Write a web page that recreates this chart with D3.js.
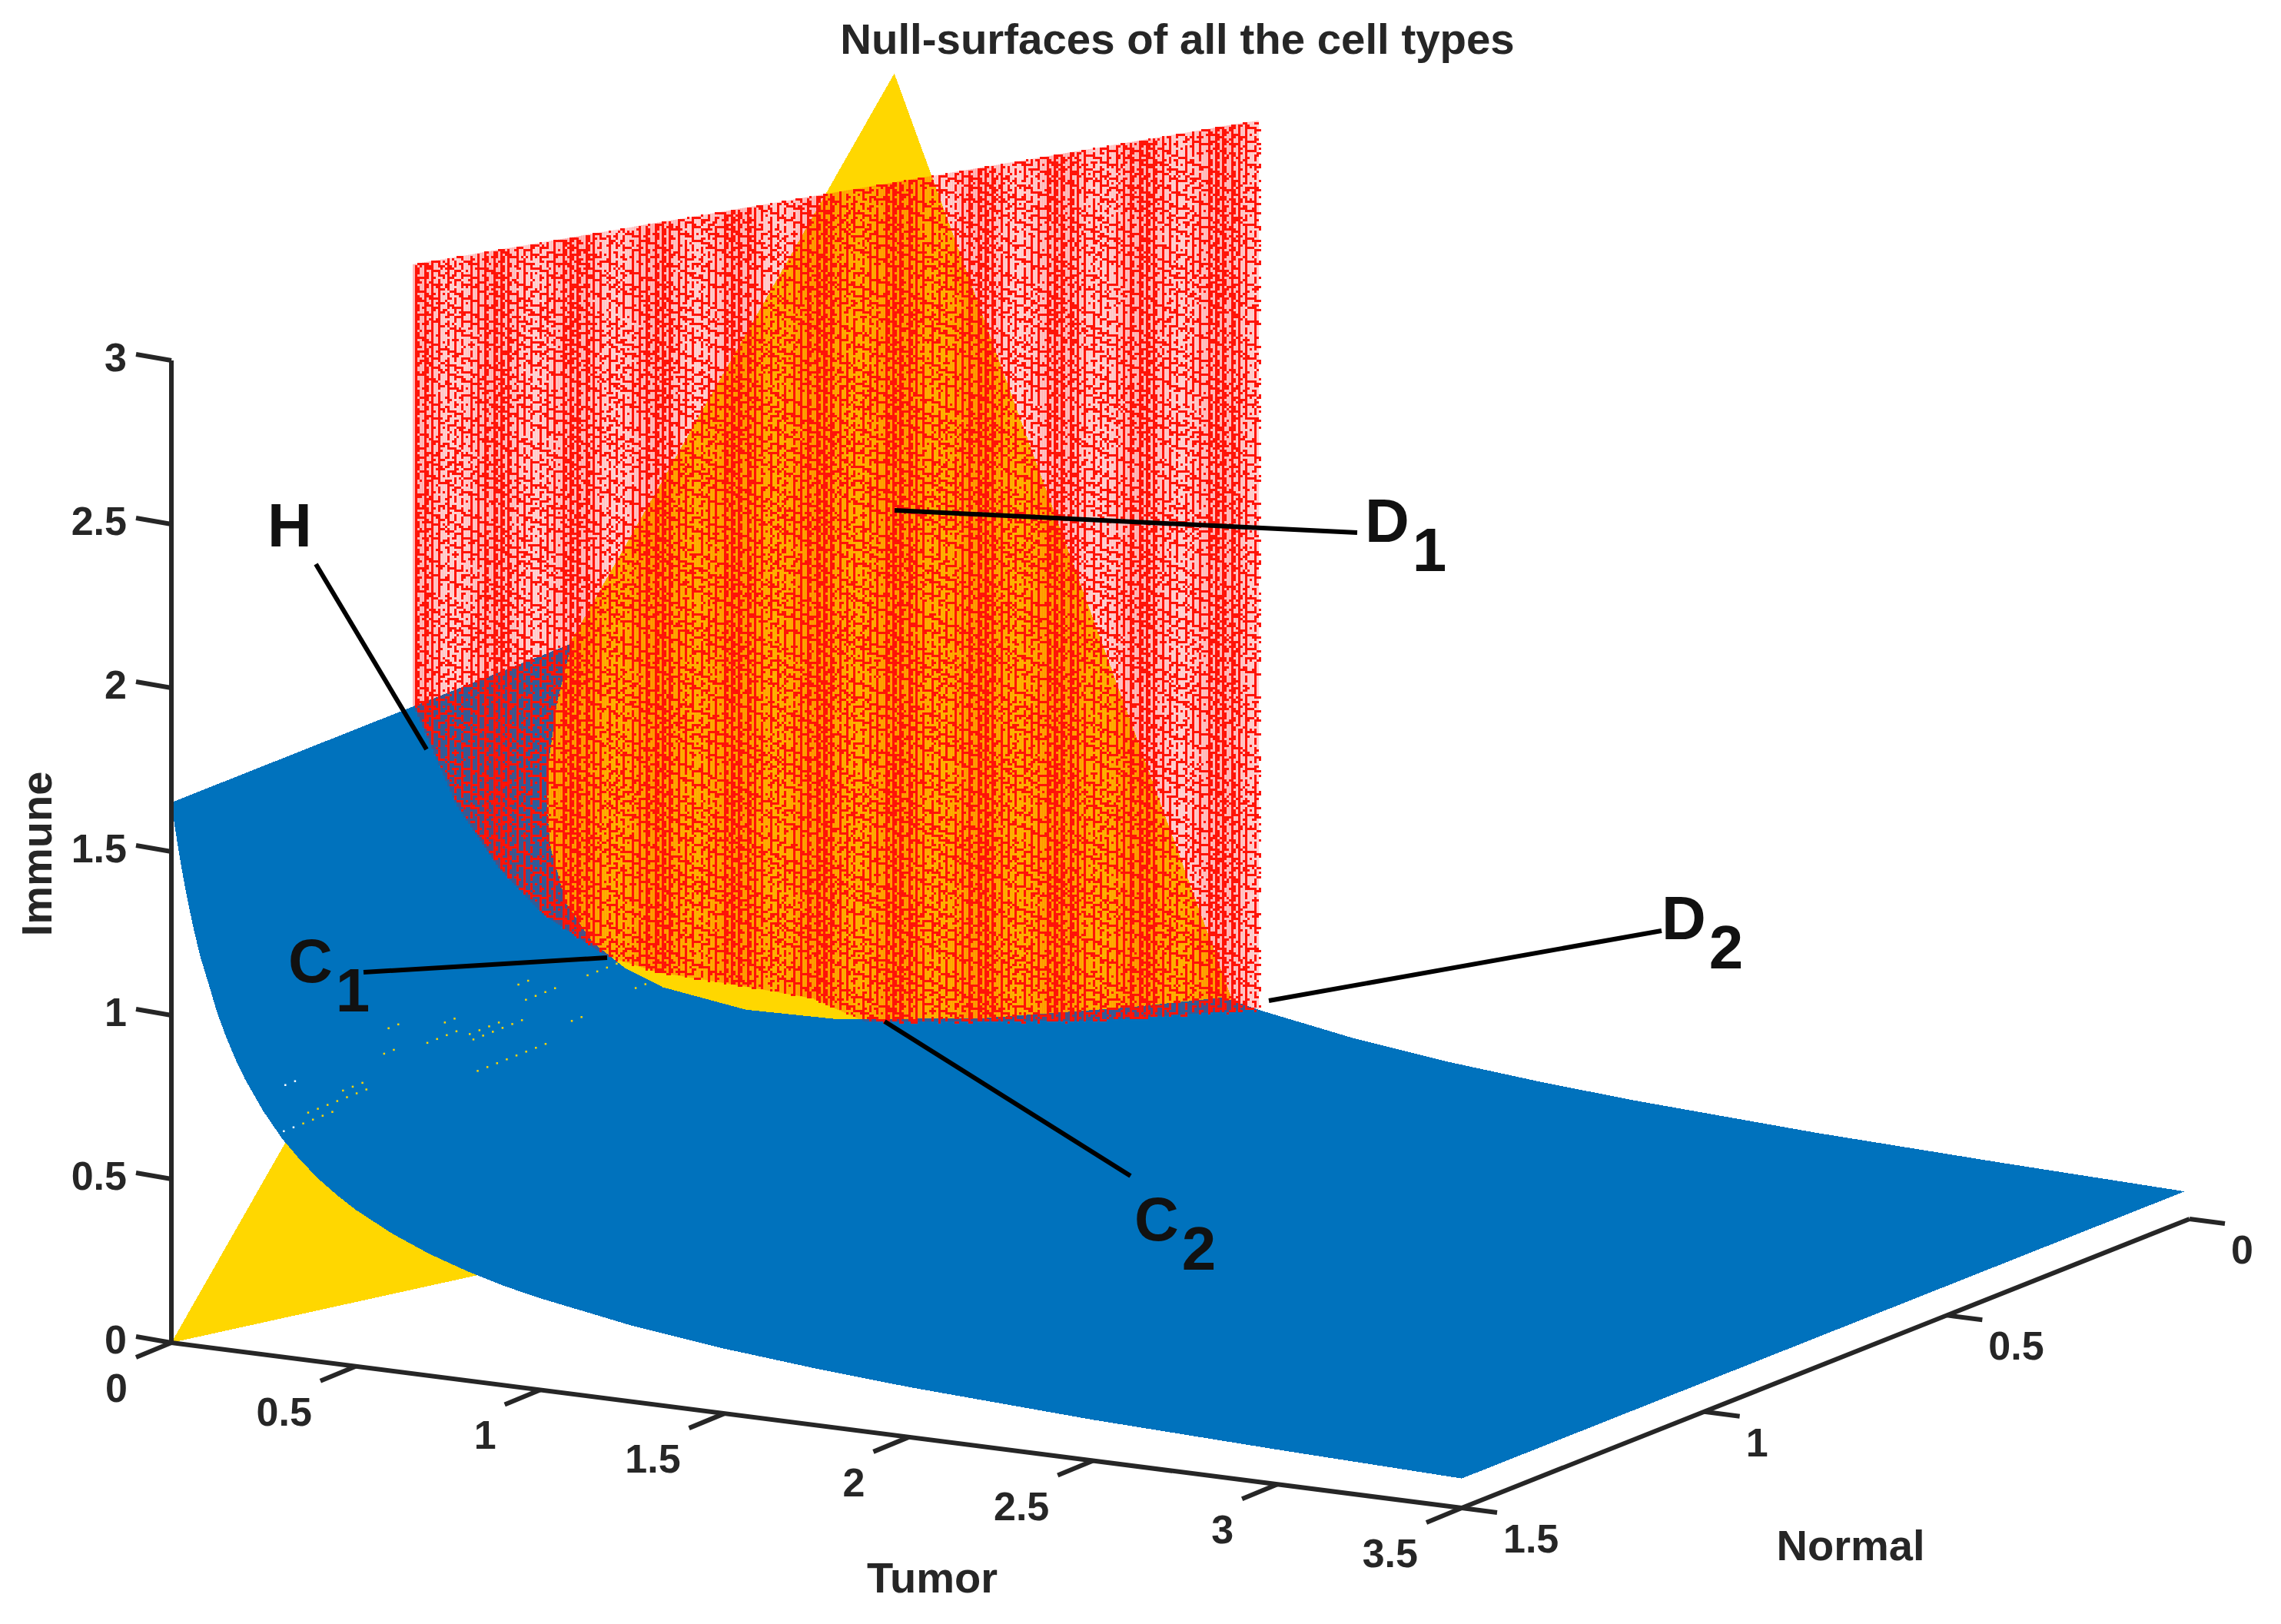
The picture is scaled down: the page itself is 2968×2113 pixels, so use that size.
<!DOCTYPE html>
<html>
<head>
<meta charset="utf-8">
<title>Null-surfaces</title>
<script src="https://cdn.jsdelivr.net/npm/d3@7"></script>
<style>
	html, body { margin: 0; padding: 0; background: #fff; }
	text { font-family: "Liberation Sans", Arial, sans-serif; font-weight: bold; fill: #262626; }
</style>
</head>
<body>
<div id="chart"></div>
<script>
// axis ticks
var tumorTicks = [0, 0.5, 1, 1.5, 2, 2.5, 3, 3.5];
var normalTicks = [0, 0.5, 1, 1.5];
var immuneTicks = [0, 0.5, 1, 1.5, 2, 2.5, 3];

// blue surface, immune read along the tumor direction (same for all normal)
var blueTumor = [0, 0.01, 0.02, 0.03, 0.04, 0.05, 0.065, 0.08, 0.1, 0.125, 0.15, 0.175, 0.2, 0.25, 0.3, 0.35, 0.4, 0.45, 0.5, 0.6, 0.7, 0.8, 0.9, 1, 1.25, 1.5, 1.75, 2, 2.5, 3, 3.5];
var blueImmune = [1.65, 1.573, 1.503, 1.439, 1.38, 1.325, 1.251, 1.185, 1.114, 1.023, 0.951, 0.888, 0.833, 0.742, 0.667, 0.608, 0.557, 0.515, 0.478, 0.419, 0.372, 0.335, 0.304, 0.28, 0.232, 0.198, 0.173, 0.153, 0.125, 0.106, 0.09];
var blueNormalFront = 1.5;
var blueNormalBack = 0.01;

// yellow triangle corners
var yellowTumor = [0, 1, 0];
var yellowNormal = [1.5, 0, 0.01];
var yellowImmune = [0, 0, 3];

// where the yellow plane comes out of the blue surface
var yellowEdgeTumor = [0, 0.02, 0.05, 0.075, 0.1, 0.15, 0.2, 0.25, 0.3, 0.4, 0.5, 0.65, 0.8, 0.9];
var yellowEdgeNormal = [0.675, 0.72, 0.7625, 0.782, 0.795, 0.8, 0.785, 0.755, 0.715, 0.62, 0.51, 0.33, 0.132, 0];

// red wall stands on tumor + normal = 1, from this lower edge up to immune 3
var redTumorEnd = 0.99;
var redTop = 3;
var redLowerTumor = [0, 0.05, 0.1, 0.15, 0.226, 0.287, 0.367, 0.467, 0.528, 0.6, 0.8, 0.99];
var redLowerImmune = [1.65, 1.325, 1.11, 0.95, 0.785, 0.709, 0.64, 0.55, 0.452, 0.42, 0.335, 0.285];

// stray points on the blue surface: one tumor value, first normal, count
var strayTumor = [0.29, 0.277, 0.265, 0.245, 0.256, 0.266, 0.317, 0.296, 0.228, 0.207, 0.237, 0.24, 0.24, 0.217, 0.285];
var strayNormal = [1.449, 1.429, 1.348, 1.159, 1.08, 1.08, 1.11, 0.9, 1.11, 1.21, 1.242, 0.952, 0.825, 0.95, 0.76];
var strayCount = [4, 7, 3, 4, 4, 6, 8, 2, 2, 2, 2, 4, 4, 2, 2];
var holeTumor = [0.29, 0.227];
var holeNormal = [1.489, 1.438];
var holeCount = [2, 2];

var title = "Null-surfaces of all the cell types";

var W = 2968, H = 2113;

var svg = d3.select("#chart").append("svg")
	.attr("width", W)
	.attr("height", H)
	.style("display", "block");

svg.append("rect")
	.attr("width", W)
	.attr("height", H)
	.attr("fill", "#fff");

// one scale for each screen direction of each axis
var tumorX = d3.scaleLinear().domain([0, 3.5]).range([223, 1902]);
var tumorY = d3.scaleLinear().domain([0, 3.5]).range([1747, 1962]);
var normalX = d3.scaleLinear().domain([1.5, 0]).range([0, 947]);
var normalY = d3.scaleLinear().domain([1.5, 0]).range([0, -376]);
var immuneY = d3.scaleLinear().domain([0, 3]).range([0, -1278]);

function project(t, n, i) {
	return [tumorX(t) + normalX(n), tumorY(t) + normalY(n) + immuneY(i)];
}

var blueAt = d3.scaleLinear().domain(blueTumor).range(blueImmune);
var redLowerAt = d3.scaleLinear().domain(redLowerTumor).range(redLowerImmune);

var polygon = d3.line().curve(d3.curveLinearClosed);

// yellow triangle, the part under the blue gets covered next
svg.append("path")
	.attr("d", polygon(yellowTumor.map(function(t, k) {
		return project(t, yellowNormal[k], yellowImmune[k]);
	})))
	.attr("fill", "#FFD700")
	.attr("shape-rendering", "crispEdges");

// blue surface: front edge and back edge
var bluePts = blueTumor.map(function(t, k) { return project(t, blueNormalFront, blueImmune[k]); })
	.concat(blueTumor.map(function(t, k) { return project(t, blueNormalBack, blueImmune[k]); }).reverse());

svg.append("path")
	.attr("d", polygon(bluePts))
	.attr("fill", "#0072BD")
	.attr("shape-rendering", "crispEdges");

// yellow above the blue
var yellowTop = [project(yellowTumor[2], yellowNormal[2], yellowImmune[2])].concat(yellowEdgeTumor.map(function(t, k) {
	return project(t, yellowEdgeNormal[k], blueAt(t));
}));

svg.append("path")
	.attr("d", polygon(yellowTop))
	.attr("fill", "#FFD700")
	.attr("shape-rendering", "crispEdges");

// red wall: a pale layer in columns, then the dot mesh on a 3px cell
var cell = 3;
var tumorStep = 0.0027;
var immuneStep = cell / 426;
var columns = d3.range(0, Math.round(redTumorEnd / tumorStep));

function frac(v) { return v - Math.floor(v); }
function beat(c) { return 0.5 + 0.5 * Math.cos(2 * Math.PI * c / 35); }

svg.append("g").selectAll("line")
	.data(columns)
	.join("line")
	.attr("x1", function(c) { return project(c * tumorStep, 1 - c * tumorStep, redTop)[0]; })
	.attr("x2", function(c) { return project(c * tumorStep, 1 - c * tumorStep, redTop)[0]; })
	.attr("y1", function(c) { return project(c * tumorStep, 1 - c * tumorStep, redTop)[1]; })
	.attr("y2", function(c) {
		var t = c * tumorStep;
		return project(t, 1 - t, redLowerAt(t))[1];
	})
	.attr("stroke", "#ff0000")
	.attr("stroke-width", cell + 0.4)
	.attr("stroke-opacity", function(c) { return 0.17 + 0.1 * beat(c); });

var mesh = d3.path();
columns.forEach(function(c) {
	var t = c * tumorStep;
	var lower = redLowerAt(t);
	var seg = Math.floor(c * 0.3);
	var lineCol = seg !== Math.floor((c - 1) * 0.3);
	var b = beat(c);
	var thick = seg !== Math.floor((c - 2) * 0.3) && b > 0.7;
	var rows = Math.floor((redTop - lower) / immuneStep);
	for (var k = 0; k <= rows; k++) {
		var on;
		if (lineCol) {
			on = frac(k * 0.7549 + seg * 0.5698) < 0.8 + 0.3 * b;
		} else if (thick) {
			on = frac(k * 0.7549 + seg * 0.5698) < 0.2 + 0.5 * b;
		} else {
			on = (k % 2 === 0 && frac(seg * 0.618 + k * 0.1910) < 0.3) || frac(c * 0.7548 + k * 0.5698) < 0.1;
		}
		if (!on) continue;
		var p = project(t, 1 - t, redTop - k * immuneStep);
		mesh.rect(Math.round(p[0] / cell) * cell, Math.round(p[1] / cell) * cell, cell, cell);
	}
});

svg.append("path")
	.attr("d", mesh.toString())
	.attr("fill", "#ff1408")
	.attr("shape-rendering", "crispEdges");

// stray points
function strayPoints(tumors, normals, counts) {
	var pts = [];
	tumors.forEach(function(t, k) {
		d3.range(counts[k]).forEach(function(s) {
			pts.push(project(t, normals[k] - s * 0.02, blueAt(t)));
		});
	});
	return pts;
}

function drawStrays(pts, colour) {
	svg.append("g").selectAll("rect")
		.data(pts)
		.join("rect")
		.attr("x", function(d) { return d[0] - 1; })
		.attr("y", function(d) { return d[1] - 1; })
		.attr("width", 2.5)
		.attr("height", 2.5)
		.attr("fill", colour);
}

drawStrays(strayPoints(strayTumor, strayNormal, strayCount), "#FFD700");
drawStrays(strayPoints(holeTumor, holeNormal, holeCount), "#fff");

// axes
var axisG = svg.append("g")
	.attr("stroke", "#262626")
	.attr("stroke-width", 6)
	.attr("fill", "none");

function axisLine(a, b) {
	axisG.append("line")
		.attr("x1", a[0]).attr("y1", a[1])
		.attr("x2", b[0]).attr("y2", b[1]);
}

axisLine(project(0, 1.5, 0), project(3.5, 1.5, 0));
axisLine(project(3.5, 1.5, 0), project(3.5, 0, 0));
axisLine(project(0, 1.5, 0), project(0, 1.5, 3));

tumorTicks.forEach(function(t) {
	var p = project(t, 1.5, 0);
	axisLine(p, [p[0] - 46, p[1] + 19]);
	svg.append("text")
		.attr("x", p[0] - 57)
		.attr("y", p[1] + 77)
		.attr("text-anchor", "end")
		.attr("font-size", 52)
		.text(t);
});

normalTicks.forEach(function(n) {
	var p = project(3.5, n, 0);
	axisLine(p, [p[0] + 46, p[1] + 6]);
	svg.append("text")
		.attr("x", p[0] + 54)
		.attr("y", p[1] + 58)
		.attr("text-anchor", "start")
		.attr("font-size", 52)
		.text(n);
});

immuneTicks.forEach(function(v) {
	var p = project(0, 1.5, v);
	axisLine(p, [p[0] - 46, p[1] - 8]);
	svg.append("text")
		.attr("x", 165)
		.attr("y", p[1] + 14)
		.attr("text-anchor", "end")
		.attr("font-size", 52)
		.text(v);
});

// titles
svg.append("text")
	.attr("x", 1532)
	.attr("y", 70)
	.attr("text-anchor", "middle")
	.attr("font-size", 56.4)
	.text(title);

svg.append("text")
	.attr("x", 1213)
	.attr("y", 2072)
	.attr("text-anchor", "middle")
	.attr("font-size", 56)
	.text("Tumor");

svg.append("text")
	.attr("x", 2408)
	.attr("y", 2030)
	.attr("text-anchor", "middle")
	.attr("font-size", 56)
	.text("Normal");

svg.append("text")
	.attr("transform", "translate(67,1111) rotate(-90)")
	.attr("text-anchor", "middle")
	.attr("font-size", 56)
	.text("Immune");

// call-outs: leader line and its label
var callouts = [
	{ name: "H", sub: "", from: [411, 734], to: [555, 975], x: 348, y: 711 },
	{ name: "D", sub: "1", from: [1164, 664], to: [1766, 693], x: 1776, y: 705 },
	{ name: "D", sub: "2", from: [2162, 1211], to: [1651, 1302], x: 2162, y: 1222 },
	{ name: "C", sub: "1", from: [473, 1265], to: [790, 1246], x: 375, y: 1278 },
	{ name: "C", sub: "2", from: [1151, 1329], to: [1471, 1530], x: 1476, y: 1614 }
];

callouts.forEach(function(c) {
	svg.append("line")
		.attr("x1", c.from[0]).attr("y1", c.from[1])
		.attr("x2", c.to[0]).attr("y2", c.to[1])
		.attr("stroke", "#000")
		.attr("stroke-width", 6);
	var label = svg.append("text")
		.attr("x", c.x)
		.attr("y", c.y)
		.attr("font-size", 80)
		.style("fill", "#111");
	label.append("tspan").text(c.name);
	if (c.sub) label.append("tspan").attr("dx", 4).attr("dy", 38).text(c.sub);
});
</script>
</body>
</html>
